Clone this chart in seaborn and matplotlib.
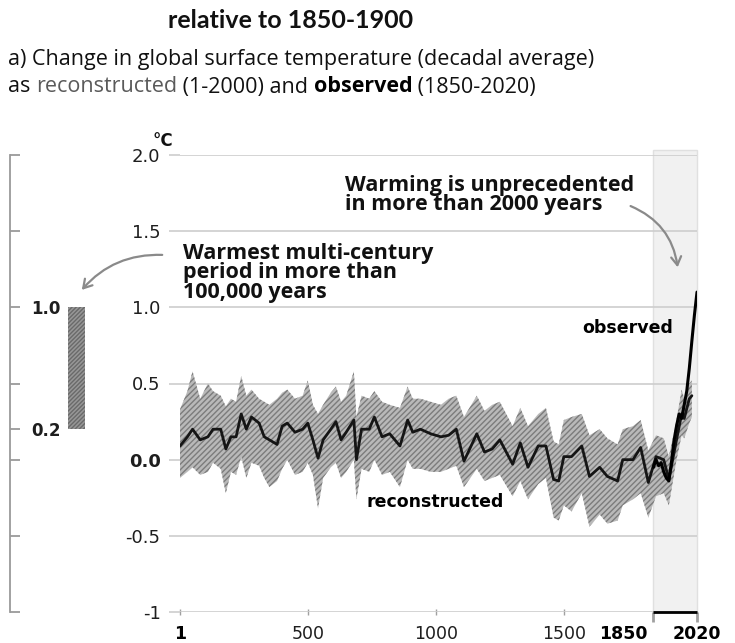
import matplotlib
matplotlib.use("Agg")
import matplotlib.pyplot as plt
import matplotlib.lines as mlines
import numpy as np
import pandas as pd
import seaborn as sns
from matplotlib.transforms import ScaledTranslation

# Reconstructed decadal mean (1-2000) with its uncertainty band
rec_years = [1, 30, 50, 80, 110, 130, 160, 180, 200, 220, 240, 260, 280, 310, 330, 350,
             380, 400, 420, 450, 480, 500, 520, 540, 560, 590, 610, 630, 650, 680, 690,
             710, 740, 760, 790, 820, 860, 890, 910, 940, 980, 1020, 1050, 1080, 1110,
             1160, 1190, 1220, 1250, 1300, 1330, 1360, 1400, 1430, 1460, 1480, 1500,
             1530, 1570, 1600, 1640, 1670, 1710, 1730, 1770, 1800, 1830, 1860, 1890,
             1910, 1940, 1960, 1970, 1990, 2000]
rec_mid = [0.09, 0.15, 0.20, 0.13, 0.15, 0.20, 0.20, 0.07, 0.15, 0.15, 0.30, 0.20, 0.28,
           0.24, 0.15, 0.13, 0.10, 0.22, 0.24, 0.18, 0.20, 0.24, 0.13, 0.01, 0.13, 0.20,
           0.25, 0.13, 0.18, 0.26, 0.00, 0.20, 0.20, 0.28, 0.15, 0.17, 0.09, 0.26, 0.18,
           0.20, 0.17, 0.15, 0.16, 0.20, -0.01, 0.17, 0.05, 0.07, 0.13, -0.03, 0.11,
           -0.05, 0.09, 0.09, -0.13, -0.14, 0.02, 0.02, 0.09, -0.11, -0.05, -0.11, -0.14,
           0.00, 0.00, 0.08, -0.15, 0.02, 0.00, -0.13, 0.13, 0.30, 0.27, 0.40, 0.42]
rec_high = [0.33, 0.45, 0.58, 0.40, 0.50, 0.45, 0.42, 0.35, 0.40, 0.38, 0.55, 0.42, 0.46,
            0.40, 0.38, 0.36, 0.40, 0.44, 0.46, 0.40, 0.42, 0.52, 0.36, 0.30, 0.36, 0.44,
            0.48, 0.38, 0.42, 0.58, 0.28, 0.42, 0.40, 0.45, 0.38, 0.36, 0.34, 0.48, 0.40,
            0.40, 0.38, 0.36, 0.40, 0.42, 0.28, 0.42, 0.32, 0.36, 0.38, 0.22, 0.34, 0.22,
            0.30, 0.34, 0.12, 0.10, 0.26, 0.28, 0.30, 0.16, 0.20, 0.14, 0.10, 0.20, 0.22,
            0.26, 0.06, 0.16, 0.14, 0.02, 0.26, 0.46, 0.40, 0.50, 0.52]
rec_low = [-0.12, -0.08, -0.05, -0.10, -0.08, -0.02, -0.06, -0.22, -0.08, -0.10, 0.02,
           -0.12, -0.02, -0.04, -0.12, -0.18, -0.14, -0.06, 0.00, -0.10, -0.08, -0.02,
           -0.10, -0.32, -0.12, -0.05, -0.02, -0.12, -0.08, 0.00, -0.26, -0.06, -0.08,
           0.00, -0.10, -0.08, -0.18, 0.00, -0.06, -0.06, -0.08, -0.08, -0.06, -0.04,
           -0.18, -0.06, -0.14, -0.12, -0.10, -0.24, -0.14, -0.26, -0.16, -0.12, -0.38,
           -0.40, -0.30, -0.34, -0.22, -0.44, -0.36, -0.42, -0.40, -0.30, -0.26, -0.22,
           -0.38, -0.24, -0.22, -0.30, 0.00, 0.16, 0.14, 0.24, 0.28]

# Observed decadal mean (1850-2020)
obs_years = [1850, 1860, 1870, 1880, 1890, 1900, 1910, 1920, 1930, 1940, 1950, 1960,
             1970, 1980, 1990, 2000, 2010, 2020]
obs_temp = [-0.05, 0.00, -0.04, -0.02, -0.08, -0.12, -0.14, -0.02, 0.12, 0.22, 0.30,
            0.27, 0.36, 0.45, 0.60, 0.78, 0.95, 1.10]

# Warmest multi-century period in more than 100,000 years
warm_low, warm_high = 0.2, 1.0

y_ticks = [-1, -0.5, 0.0, 0.5, 1.0, 1.5, 2.0]
y_labels = ["-1", "-0.5", "0.0", "0.5", "1.0", "1.5", "2.0"]
x_ticks = [1, 500, 1000, 1500, 1850, 2020]
x_labels = ["1", "500", "1000", "1500", "1850", "2020"]
side_ticks = [-1, -0.5, 0.0, 0.2, 0.5, 1.0, 1.5, 2.0]
side_labels = ["", "", "", "0.2", "", "1.0", "", ""]

sns.set_theme(style="white")
plt.rcParams["font.family"] = ["Open Sans", "DejaVu Sans"]
plt.rcParams["hatch.linewidth"] = 1.0

W, H = 735, 643
fig = plt.figure(figsize=(W / 100, H / 100), dpi=100)
fig.patch.set_facecolor("white")


def px_box(x0, y0, x1, y1):
    # pixel box (top-left origin) -> figure fraction rect
    return [x0 / W, 1 - y1 / H, (x1 - x0) / W, (y1 - y0) / H]


# ---- main panel ----
ax = fig.add_axes(px_box(180, 155, 697, 612))
ax.patch.set_alpha(0)
ax.axvspan(x_ticks[4], x_ticks[5], ymin=0, ymax=1.012, facecolor="#f1f1f1",
           edgecolor="#e0e0e0", zorder=0, lw=1, clip_on=False)

ax.fill_between(rec_years, rec_low, rec_high, facecolor="#b9b9b9", edgecolor="#7c7c7c",
                hatch="//////", lw=0, zorder=2)
rec = pd.DataFrame({"year": rec_years, "temp": rec_mid})
obs = pd.DataFrame({"year": obs_years, "temp": obs_temp})
sns.lineplot(data=rec, x="year", y="temp", ax=ax, color="#151515", lw=2, zorder=3)
sns.lineplot(data=obs, x="year", y="temp", ax=ax, color="#000000", lw=2.2, zorder=4)

ax.set_xlim(1, 2020)
ax.set_ylim(-1, 2.0)
ax.set_xlabel("")
ax.set_ylabel("")
for s in ax.spines.values():
    s.set_visible(False)

ax.set_yticks(y_ticks)
ax.set_yticklabels(y_labels)
ax.yaxis.grid(True, color="#cdcdcd", lw=1.2, zorder=1)
ax.xaxis.grid(False)
ax.tick_params(axis="y", left=True, length=8, width=1.2, color="#cdcdcd", pad=6,
               labelsize=13, labelcolor="#1e1e1e")
for lbl in ax.get_yticklabels():
    lbl.set_fontfamily("DejaVu Sans")
    if lbl.get_text() == "0.0":
        lbl.set_fontweight("bold")

ax.set_xticks(x_ticks)
ax.set_xticklabels(x_labels)
ax.tick_params(axis="x", bottom=True, length=5, width=1, direction="inout",
               color="#a0a0a0", pad=7, labelsize=12.5, labelcolor="#1e1e1e")
for lbl in ax.get_xticklabels():
    lbl.set_fontfamily("DejaVu Sans")
    if lbl.get_text() in ("1", "1850", "2020"):
        lbl.set_fontweight("bold")
        lbl.set_color("black")
# bracket marking the observed period
for t in ax.xaxis.get_major_ticks()[4:]:
    t.tick1line.set_marker(mlines.TICKDOWN)
    t.tick1line.set_markersize(7)
    t.tick1line.set_markeredgewidth(2)
    t.tick1line.set_color("black")
ax.hlines(-1, x_ticks[4], x_ticks[5], color="black", lw=2, zorder=5, clip_on=False)
lbl1850 = ax.get_xticklabels()[4]
lbl1850.set_ha("right")
lbl1850.set_transform(lbl1850.get_transform() + ScaledTranslation(-4 / 72, 0, fig.dpi_scale_trans))

# ---- side scale with the warm-period bar ----
ax2 = fig.add_axes(px_box(10, 155, 110, 612))
ax2.patch.set_alpha(0)
ax2.set_ylim(-1, 2.0)
ax2.set_xlim(0, 100)
for k, s in ax2.spines.items():
    s.set_visible(k == "left")
ax2.spines["left"].set_color("#9a9a9a")
ax2.spines["left"].set_linewidth(1.3)
ax2.set_xticks([])
ax2.set_yticks(side_ticks)
ax2.set_yticklabels(side_labels)
ax2.tick_params(axis="y", left=True, direction="in", length=7, width=1.3, color="#9a9a9a",
                pad=-15, labelsize=12, labelcolor="#1e1e1e")
for lbl in ax2.get_yticklabels():
    lbl.set_ha("left")
    lbl.set_fontfamily("DejaVu Sans")
    lbl.set_fontweight("bold")
ax2.bar(66.5, warm_high - warm_low, bottom=warm_low, width=17, facecolor="#979797",
        edgecolor="#6a6a6a", hatch="////////", lw=0)

# ---- texts ----
fig.text(168 / W, 1 - 21 / H, "relative to 1850-1900", fontsize=18, fontweight="bold",
         va="center", ha="left", color="#111111", family="Lato")
fig.text(8 / W, 1 - 60 / H, "a) Change in global surface temperature (decadal average)",
         fontsize=15.5, va="center", ha="left", color="#111111")
parts = [("as ", "normal", "#111111"), ("reconstructed", "normal", "#5a5a5a"),
         (" (1-2000) and ", "normal", "#111111"), ("observed", "bold", "#000000"),
         (" (1850-2020)", "normal", "#111111")]
prev = fig.text(8 / W, 1 - 87 / H, parts[0][0], fontsize=15.5, va="center", ha="left",
                color=parts[0][2])
for txt, wt, col in parts[1:]:
    prev = ax.annotate(txt, xy=(1, 0), xycoords=prev, va="bottom", ha="left",
                       fontsize=15.5, fontweight=wt, color=col, annotation_clip=False)

fig.text(163 / W, 1 - 141 / H, "°C", fontsize=12, fontweight="bold", ha="center",
         va="center", family="DejaVu Sans", color="#111111")

fig.text(345 / W, 1 - 195 / H, "Warming is unprecedented\nin more than 2000 years",
         fontsize=15.5, fontweight="bold", ha="left", va="center", linespacing=0.9,
         color="#111111")
fig.text(183 / W, 1 - 273 / H, "Warmest multi-century\nperiod in more than\n100,000 years",
         fontsize=15.5, fontweight="bold", ha="left", va="center", linespacing=0.9,
         color="#111111")
fig.text(628 / W, 1 - 328 / H, "observed", fontsize=12.5, fontweight="bold", ha="center",
         va="center", family="DejaVu Sans", color="#000000")
fig.text(435 / W, 1 - 502 / H, "reconstructed", fontsize=12.5, fontweight="bold",
         ha="center", va="center", family="DejaVu Sans", color="#000000")

arrow_kw = dict(arrowstyle="->,head_length=0.5,head_width=0.3", color="#8a8a8a", lw=1.6)
ax.annotate("", xy=(678, H - 270), xytext=(628, H - 205), xycoords="figure pixels",
            textcoords="figure pixels",
            arrowprops=dict(connectionstyle="arc3,rad=-0.3", **arrow_kw))
ax.annotate("", xy=(80, H - 292), xytext=(165, H - 255), xycoords="figure pixels",
            textcoords="figure pixels",
            arrowprops=dict(connectionstyle="arc3,rad=0.25", **arrow_kw))

fig.savefig("out.png", dpi=100, facecolor="white")
